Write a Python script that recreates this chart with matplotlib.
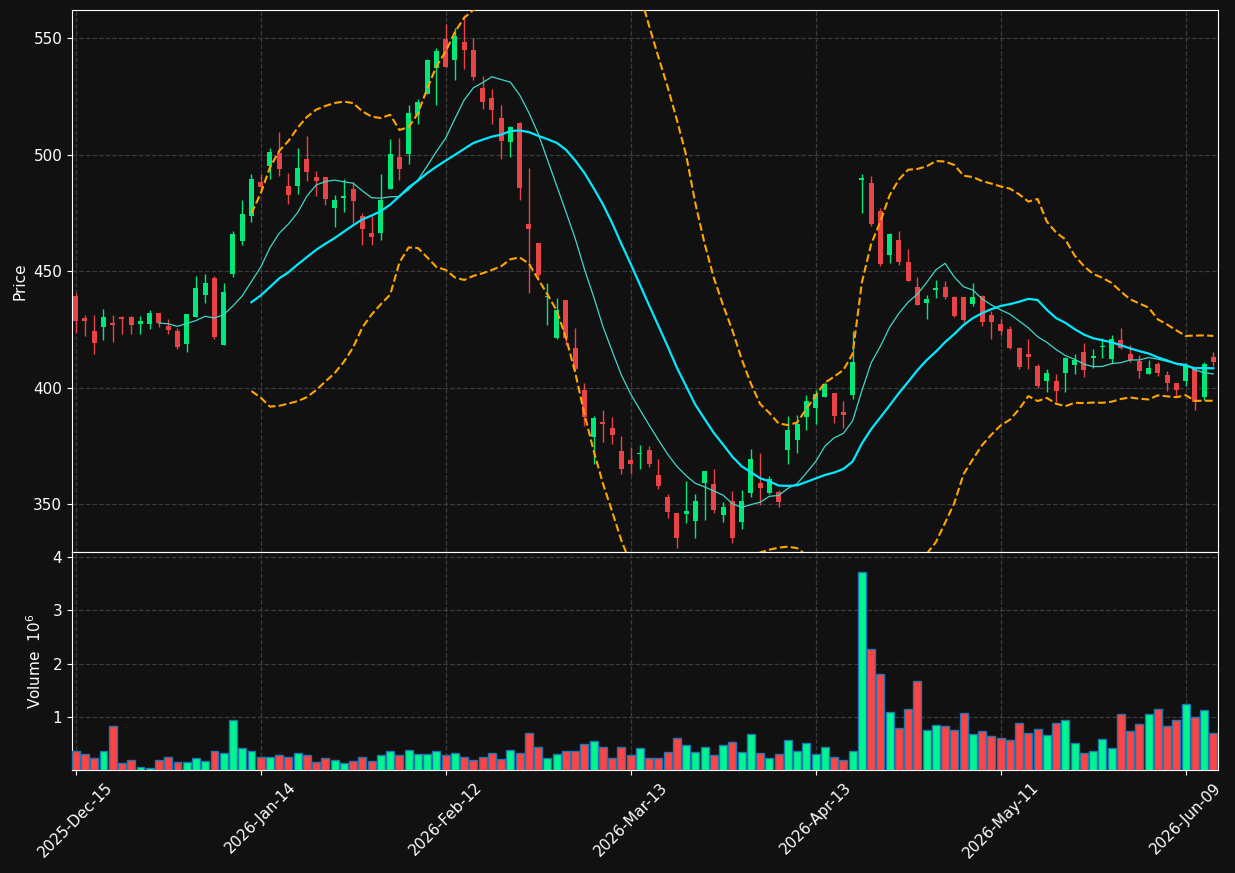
import matplotlib
matplotlib.use("Agg")
import matplotlib.pyplot as plt
import numpy as np
import pandas as pd

# ---------------------------------------------------------
# data (daily bars, US trading days)
# ---------------------------------------------------------
start_date = "2025-12-15"
holidays = ["2025-12-25", "2026-01-01", "2026-01-19", "2026-02-16",
            "2026-04-03", "2026-05-25"]

opens = [439.5, 429.7, 424.1, 426.0, 427.8, 430.5, 430.5, 427.2, 427.2, 432.0,
         426.6, 424.5, 418.9, 430.1, 439.7, 447.2, 418.3, 448.9, 462.8, 473.6,
         488.2, 495.1, 500.7, 486.3, 486.5, 498.0, 490.5, 490.5, 477.0, 481.3,
         485.1, 473.8, 466.3, 466.3, 485.3, 498.8, 500.3, 516.9, 526.1, 537.3,
         549.4, 540.6, 548.5, 545.0, 528.4, 524.2, 515.5, 505.5, 513.4, 470.3,
         462.2, 438.9, 421.4, 437.4, 417.2, 399.1, 378.7, 385.2, 382.5, 372.9,
         369.1, 371.4, 373.3, 362.5, 353.1, 346.3, 345.6, 342.7, 359.2, 358.7,
         345.2, 351.5, 342.3, 354.8, 358.9, 354.8, 355.2, 373.1, 377.5, 387.3,
         391.2, 396.2, 397.9, 389.6, 396.8, 489.0, 487.6, 475.9, 456.8, 463.2,
         454.1, 443.2, 436.2, 441.8, 443.2, 439.1, 438.7, 436.0, 439.5, 431.0,
         427.4, 425.3, 417.2, 414.5, 409.5, 402.7, 402.9, 406.2, 409.9, 415.3,
         412.6, 417.4, 412.4, 420.3, 414.3, 411.6, 405.8, 410.1, 405.6, 401.8,
         402.7, 408.3, 395.8, 413.3]
highs = [440.7, 431.2, 431.2, 433.7, 431.2, 430.9, 430.9, 430.7, 433.2, 432.0,
         429.3, 425.8, 431.8, 448.0, 448.6, 448.0, 445.1, 467.2, 480.3, 491.5,
         491.5, 503.0, 509.6, 492.1, 503.0, 507.8, 493.0, 490.5, 482.6, 489.4,
         488.4, 474.9, 473.8, 491.7, 506.5, 507.1, 521.3, 523.8, 540.8, 545.6,
         556.0, 554.4, 559.8, 549.8, 533.6, 528.1, 521.1, 512.3, 513.8, 494.2,
         462.2, 445.1, 438.5, 437.4, 425.8, 402.0, 387.9, 390.4, 387.5, 379.1,
         374.6, 375.4, 375.0, 369.4, 354.2, 346.3, 359.8, 354.2, 364.4, 365.0,
         351.0, 355.6, 356.2, 373.5, 371.9, 362.1, 356.2, 387.9, 388.3, 396.8,
         398.9, 402.4, 397.9, 394.1, 424.3, 491.5, 490.9, 477.0, 466.5, 467.0,
         459.7, 447.4, 439.9, 446.1, 445.7, 439.5, 438.7, 445.1, 439.9, 432.8,
         429.5, 426.6, 417.6, 420.8, 410.0, 407.9, 405.8, 413.3, 414.3, 419.1,
         416.6, 421.2, 422.4, 425.8, 418.3, 414.1, 412.0, 411.2, 407.2, 401.8,
         410.6, 408.9, 410.8, 415.3]
lows = [423.5, 422.0, 414.5, 420.3, 419.5, 423.0, 423.0, 423.0, 425.1, 426.0,
        423.0, 416.6, 415.3, 430.1, 436.2, 420.8, 418.3, 447.4, 461.1, 471.1,
        484.9, 489.4, 490.9, 478.6, 483.0, 488.6, 482.4, 478.2, 468.8, 475.3,
        470.7, 461.1, 461.1, 463.4, 485.3, 489.0, 496.1, 513.0, 526.1, 521.3,
        537.5, 532.1, 536.9, 532.1, 519.6, 513.0, 498.2, 498.8, 480.7, 440.7,
        446.1, 427.0, 420.8, 418.1, 407.0, 383.7, 367.1, 376.9, 375.8, 362.9,
        362.9, 365.0, 366.0, 356.4, 344.2, 331.3, 342.1, 335.4, 343.1, 346.3,
        342.5, 333.3, 339.2, 353.1, 349.6, 354.2, 349.0, 367.3, 372.1, 381.8,
        384.3, 395.8, 384.8, 382.9, 395.2, 474.9, 469.5, 452.4, 453.6, 452.8,
        445.7, 435.3, 429.5, 438.5, 438.0, 430.5, 428.3, 434.9, 426.6, 420.8,
        422.4, 416.6, 407.9, 407.9, 400.0, 398.1, 393.7, 398.1, 405.8, 404.5,
        408.3, 412.9, 410.4, 416.6, 410.8, 404.1, 405.8, 404.9, 398.5, 396.6,
        400.8, 390.6, 394.5, 409.5]
closes = [428.5, 428.5, 419.1, 430.5, 426.8, 429.3, 426.8, 428.5, 432.0, 427.6,
          424.9, 417.4, 431.8, 442.8, 445.1, 421.8, 441.2, 466.1, 474.7, 489.6,
          486.1, 500.9, 493.8, 482.6, 494.4, 492.6, 488.6, 481.1, 480.7, 482.4,
          479.9, 468.0, 464.5, 480.7, 500.3, 494.0, 518.0, 522.7, 540.4, 544.6,
          537.5, 551.0, 545.0, 533.1, 522.5, 519.0, 505.9, 511.7, 485.7, 468.0,
          448.2, 439.3, 433.2, 421.4, 408.1, 387.5, 387.0, 384.5, 379.8, 365.0,
          367.1, 372.1, 367.1, 357.7, 346.7, 335.4, 347.1, 351.5, 364.4, 347.7,
          349.0, 335.4, 351.5, 369.6, 356.9, 360.8, 350.8, 381.8, 384.3, 394.3,
          397.2, 401.4, 387.9, 388.3, 410.8, 490.1, 470.1, 453.0, 465.9, 453.9,
          445.7, 435.3, 438.0, 442.6, 438.7, 430.7, 428.9, 439.1, 428.0, 428.0,
          424.5, 417.0, 408.7, 413.1, 400.6, 406.4, 398.5, 412.8, 411.8, 407.6,
          413.7, 417.8, 420.8, 417.2, 412.0, 407.0, 408.3, 406.2, 401.8, 399.1,
          409.7, 393.7, 410.1, 410.8]
# volume in millions of shares
volumes = [0.37, 0.31, 0.24, 0.37, 0.84, 0.14, 0.20, 0.08, 0.06, 0.20,
           0.26, 0.16, 0.16, 0.24, 0.18, 0.37, 0.34, 0.95, 0.42, 0.37,
           0.26, 0.27, 0.29, 0.26, 0.33, 0.29, 0.16, 0.24, 0.20, 0.14,
           0.18, 0.27, 0.18, 0.29, 0.38, 0.29, 0.40, 0.31, 0.31, 0.37,
           0.29, 0.33, 0.26, 0.20, 0.27, 0.33, 0.22, 0.40, 0.33, 0.70,
           0.44, 0.24, 0.31, 0.38, 0.38, 0.50, 0.56, 0.44, 0.24, 0.44,
           0.29, 0.42, 0.24, 0.24, 0.35, 0.61, 0.48, 0.35, 0.44, 0.29,
           0.48, 0.54, 0.35, 0.69, 0.33, 0.24, 0.31, 0.58, 0.37, 0.52,
           0.31, 0.44, 0.26, 0.20, 0.37, 3.72, 2.28, 1.82, 1.11, 0.81,
           1.16, 1.69, 0.76, 0.86, 0.84, 0.76, 1.09, 0.69, 0.74, 0.65,
           0.61, 0.58, 0.90, 0.70, 0.78, 0.67, 0.90, 0.95, 0.52, 0.33,
           0.37, 0.59, 0.42, 1.07, 0.74, 0.88, 1.07, 1.16, 0.84, 0.95,
           1.25, 1.01, 1.13, 0.70]

# ---------------------------------------------------------
# frame + indicators
# ---------------------------------------------------------
bday = pd.offsets.CustomBusinessDay(holidays=holidays)
dates = pd.date_range(start_date, periods=len(closes), freq=bday)
df = pd.DataFrame({"Open": opens, "High": highs, "Low": lows,
                   "Close": closes, "Volume": volumes}, index=dates)

df["MA10"] = df["Close"].rolling(10).mean()
df["MA20"] = df["Close"].rolling(20).mean()
std20 = df["Close"].rolling(20).std()
df["BB_up"] = df["MA20"] + 2 * std20
df["BB_lo"] = df["MA20"] - 2 * std20

x = np.arange(len(df))
up = df["Close"] >= df["Open"]

BG = "#111111"
UP_C = "#00e87a"
DN_C = "#e84448"
UP_V = "#00f590"
DN_V = "#ff4444"

plt.rcParams["font.family"] = "DejaVu Sans"
fig = plt.figure(figsize=(12.35, 8.73), dpi=100, facecolor=BG)
ax = fig.add_axes([0.0583, 0.3677, 0.9279, 0.6208], facecolor=BG)
axv = fig.add_axes([0.0583, 0.1180, 0.9279, 0.2497], facecolor=BG, sharex=ax)

# candles
cols = np.where(up, UP_C, DN_C)
ax.vlines(x, df["Low"], df["High"], colors=cols, linewidth=1.0, zorder=3)
body_lo = np.minimum(df["Open"], df["Close"])
body_h = np.maximum((df["Close"] - df["Open"]).abs(), 0.4)
ax.bar(x, body_h, bottom=body_lo, width=0.55, color=cols, linewidth=0, zorder=4)

# moving averages + bands
ax.plot(x, df["MA10"], color="#40d8c8", linewidth=0.9, zorder=5)
ax.plot(x, df["MA20"], color="#00eaff", linewidth=1.6, zorder=5)
ax.plot(x, df["BB_up"], color="orange", linestyle="--", linewidth=1.5, zorder=5)
ax.plot(x, df["BB_lo"], color="orange", linestyle="--", linewidth=1.5, zorder=5)

# volume
vcols = np.where(up, UP_V, DN_V)
axv.bar(x, df["Volume"], width=0.85, color=vcols, edgecolor="#1f77b4",
        linewidth=1.0, zorder=3)

ax.set_xlim(-0.4, len(df) - 0.5)
ax.set_ylim(329.5, 562.0)
axv.set_ylim(0.3 * df["Volume"].min(), 1.1 * df["Volume"].max())

tick_pos = x[::20]
ax.set_xticks(tick_pos)
axv.set_xticklabels([d.strftime("%Y-%b-%d") for d in df.index[tick_pos]],
                    rotation=45, ha="center")
plt.setp(ax.get_xticklabels(), visible=False)
ax.set_yticks([350, 400, 450, 500, 550])
axv.set_yticks([1, 2, 3, 4])

for a in (ax, axv):
    a.grid(True, linestyle="--", color="#3c3c3c", linewidth=0.9)
    a.set_axisbelow(True)
    a.tick_params(colors="white", labelsize=11)
    for s in a.spines.values():
        s.set_color("white")
ax.tick_params(axis="x", length=0)

ax.set_ylabel("Price", color="white", fontsize=11)
axv.set_ylabel("Volume  $10^{6}$", color="white", fontsize=11)
ax.yaxis.set_label_coords(-0.039, 0.5)
axv.yaxis.set_label_coords(-0.024, 0.5)

fig.savefig("out.png", dpi=100, facecolor=BG)
